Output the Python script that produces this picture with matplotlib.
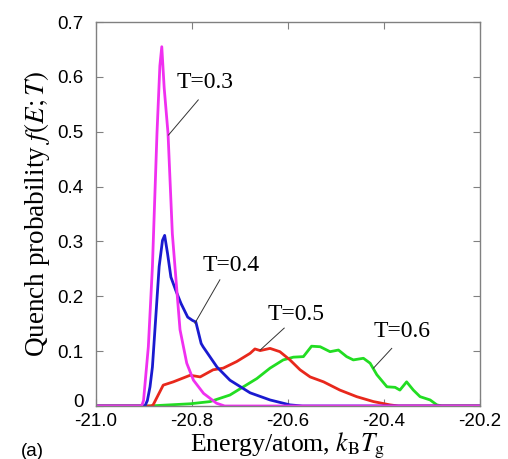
import matplotlib
matplotlib.use('Agg')
import matplotlib.pyplot as plt
import matplotlib.transforms as mtransforms

plt.rcParams['font.family'] = ['Liberation Serif', 'DejaVu Serif']
plt.rcParams['mathtext.fontset'] = 'stix'

# T=0.3 (magenta)
e03 = [-21.0, -20.905, -20.901, -20.891, -20.8825, -20.873, -20.867, -20.863,
       -20.858, -20.850, -20.841, -20.830, -20.825, -20.811, -20.797, -20.776,
       -20.749, -20.732, -20.2]
p03 = [0.0, 0.0, 0.01, 0.108, 0.254, 0.497, 0.62, 0.655,
       0.58, 0.497, 0.314, 0.193, 0.139, 0.078, 0.047, 0.023,
       0.005, 0.0, 0.0]

# T=0.4 (blue)
e04 = [-21.0, -20.898, -20.893, -20.8875, -20.8825, -20.8755, -20.8685, -20.8615,
       -20.857, -20.851, -20.844, -20.834, -20.823, -20.809, -20.799, -20.792,
       -20.781, -20.777, -20.748, -20.721, -20.679, -20.6375, -20.596, -20.57, -20.2]
p04 = [0.0, 0.0, 0.010, 0.035, 0.071, 0.162, 0.254, 0.302,
       0.311, 0.278, 0.235, 0.211, 0.187, 0.162, 0.156, 0.153,
       0.114, 0.108, 0.071, 0.047, 0.024, 0.011, 0.002, 0.0, 0.0]

# T=0.5 (red)
e05 = [-21.0, -20.885, -20.881, -20.860, -20.839, -20.804, -20.783, -20.756,
       -20.735, -20.707, -20.679, -20.669, -20.658, -20.6375, -20.617, -20.596,
       -20.575, -20.554, -20.526, -20.492, -20.457, -20.422, -20.3875, -20.37, -20.2]
p05 = [0.0, 0.0, 0.002, 0.038, 0.044, 0.056, 0.053, 0.066,
       0.069, 0.081, 0.096, 0.104, 0.101, 0.105, 0.099, 0.084,
       0.066, 0.053, 0.044, 0.029, 0.017, 0.008, 0.002, 0.0, 0.0]

# T=0.6 (green)
e06 = [-21.0, -20.89, -20.804, -20.7625, -20.721, -20.693, -20.665, -20.6375,
       -20.610, -20.589, -20.568, -20.551, -20.533, -20.5125, -20.495, -20.478,
       -20.464, -20.443, -20.429, -20.415, -20.394, -20.377, -20.367, -20.353,
       -20.339, -20.325, -20.304, -20.290, -20.28, -20.2]
p06 = [0.0, 0.0, 0.004, 0.008, 0.020, 0.035, 0.050, 0.069,
       0.084, 0.089, 0.090, 0.109, 0.108, 0.099, 0.102, 0.090,
       0.084, 0.087, 0.078, 0.057, 0.035, 0.034, 0.029, 0.044,
       0.029, 0.017, 0.011, 0.002, 0.0, 0.0]

labels = ['T=0.3', 'T=0.4', 'T=0.5', 'T=0.6']
label_xy = [(-20.773, 0.589), (-20.718, 0.257), (-20.583, 0.166), (-20.3625, 0.135)]
leader_from = [(-20.787, 0.558), (-20.742, 0.230), (-20.608, 0.142), (-20.384, 0.105)]
leader_to = [(-20.849, 0.494), (-20.794, 0.151), (-20.658, 0.102), (-20.422, 0.069)]

fig = plt.figure(figsize=(5.08, 4.59), dpi=100)
ax = fig.add_axes([0.189, 0.1155, 0.756, 0.8365])

ax.plot(e06, p06, color='#22dd22', lw=2.0)
ax.plot(e05, p05, color='#e8281c', lw=2.0)
ax.plot(e04, p04, color='#1a1ad0', lw=2.0)
ax.plot(e03, p03, color='#f030f0', lw=2.0)

for lab, xy, a, b in zip(labels, label_xy, leader_from, leader_to):
    ax.text(xy[0], xy[1], lab, fontsize=17, ha='center', va='center')
    ax.plot([a[0], b[0]], [a[1], b[1]], color='#333333', lw=0.7)

ax.set_xlim(-21.0, -20.2)
ax.set_ylim(0, 0.7)
ax.set_xticks([-21.0, -20.8, -20.6, -20.4, -20.2])
ax.set_xticklabels(['-21.0', '-20.8', '-20.6', '-20.4', '-20.2'])
ax.set_yticks([0, 0.1, 0.2, 0.3, 0.4, 0.5, 0.6, 0.7])
ax.set_yticklabels(['0', '0.1', '0.2', '0.3', '0.4', '0.5', '0.6', '0.7'])
ax.tick_params(direction='in', length=5, width=0.8, color='#808080',
               top=True, right=True, labelsize=13.5, pad=5)
ax.tick_params(axis='y', pad=9)
for lab in ax.get_xticklabels() + ax.get_yticklabels():
    lab.set_family(['Liberation Sans', 'DejaVu Sans'])
# lift the "0" a little, as in the original
zero = ax.get_yticklabels()[0]
zero.set_transform(zero.get_transform() +
                   mtransforms.ScaledTranslation(0, 4 / 72, fig.dpi_scale_trans))
for s in ax.spines.values():
    s.set_color('#808080')
    s.set_linewidth(1.0)

ax.set_xlabel(r'Energy/atom, $k_{\rm B}T_{\rm g}$', fontsize=18.5, labelpad=0.5)
ax.set_ylabel(r'Quench probability $f(E;T)$', fontsize=19.5, labelpad=4)
fig.text(32 / 508, 1 - 451 / 459, '(a)', fontsize=13.5, ha='center', va='center',
         family=['Liberation Sans', 'DejaVu Sans'])

fig.savefig('out.png', dpi=100)
